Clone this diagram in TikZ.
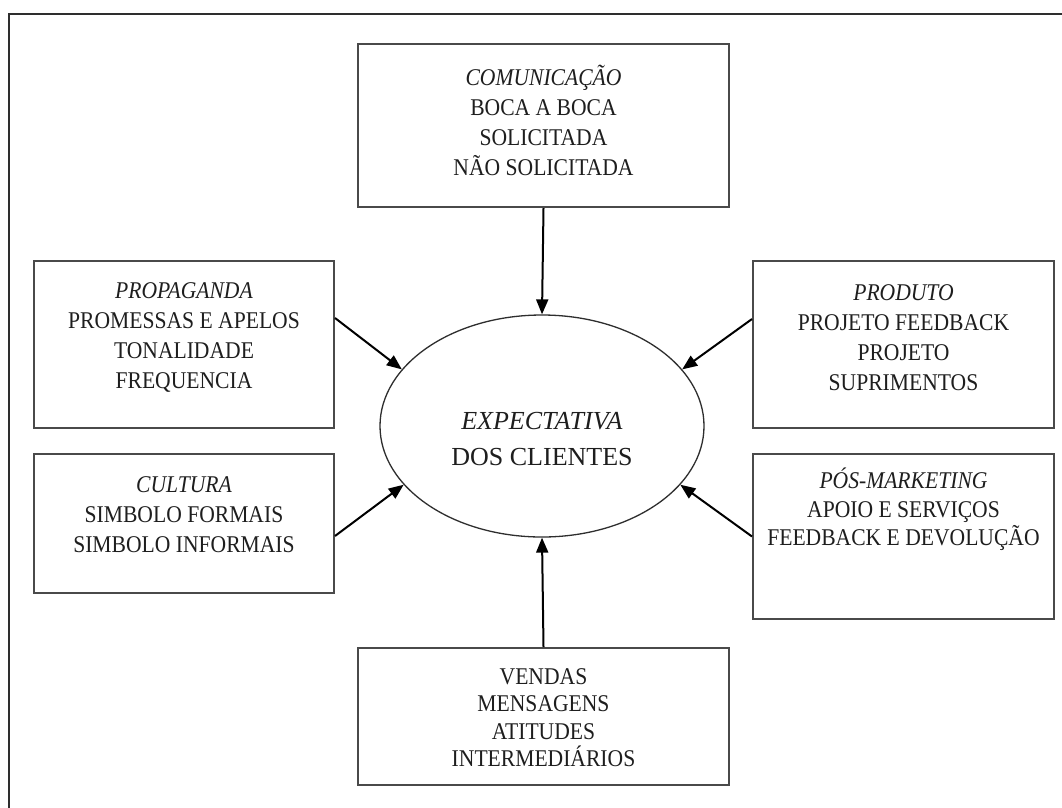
\documentclass[tikz,border=0pt]{standalone}
\usepackage{fontspec}
\setmainfont{Liberation Serif}[FakeStretch=0.9]
\newfontfamily\ellfont{Liberation Serif}
\usetikzlibrary{arrows.meta,shapes.geometric}
\definecolor{boxline}{HTML}{4A4A4A}
\definecolor{txt}{HTML}{1E1E1E}
\definecolor{frameline}{HTML}{2E2E2E}
\begin{document}
\begin{tikzpicture}[x=1pt,y=-1pt,
  box/.style 2 args={draw=boxline, line width=2pt, rectangle, anchor=north west,
    inner sep=0pt, minimum width=#1, minimum height=#2},
  lbl/.style={align=center, inner sep=0pt, text=txt,
    font=\fontsize{24}{30}\selectfont},
  arr/.style={draw=black, line width=2pt, -{Triangle[length=15pt,width=12pt]}}]
\useasboundingbox (0,0) rectangle (1062,807);
\clip (0,0) rectangle (1062,807);
\fill[white] (0,0) rectangle (1062,807);
% outer frame (cut off at right and bottom)
\draw[frameline, line width=2.8pt] (9,900) |- (1100,14);

% boxes
\node[box={371}{163}] (top) at (357,43) {};
\node[box={300}{167}] (prop) at (33,260) {};
\node[box={300}{139}] (cult) at (33,453) {};
\node[box={301}{167}] (prod) at (752,260) {};
\node[box={301}{165}] (pos) at (752,453) {};
\node[box={371}{137}] (bot) at (357,647) {};
\node[draw=frameline, line width=1.3pt, ellipse, inner sep=0pt,
      minimum width=324, minimum height=222] (ell) at (542,426) {};

% texts
\node[lbl] (toptxt) at ([yshift=5.5pt]top.center)
  {\textit{COMUNICAÇÃO}\\BOCA A BOCA\\SOLICITADA\\NÃO SOLICITADA};
\node[lbl] (proptxt) at ([yshift=7.5pt]prop.center)
  {\textit{PROPAGANDA}\\PROMESSAS E APELOS\\TONALIDADE\\FREQUENCIA};
\node[lbl] (culttxt) at ([yshift=8.5pt]cult.center)
  {\textit{CULTURA}\\SIMBOLO FORMAIS\\SIMBOLO INFORMAIS};
\node[lbl] (prodtxt) at ([yshift=7pt]prod.center)
  {\textit{PRODUTO}\\PROJETO FEEDBACK\\PROJETO\\SUPRIMENTOS};
\node[lbl, font=\fontsize{24}{28.5}\selectfont] (postxt) at ([yshift=27pt]pos.center)
  {\textit{PÓS-MARKETING}\\APOIO E SERVIÇOS\\FEEDBACK E DEVOLUÇÃO};
\node[lbl, font=\fontsize{24}{27.5}\selectfont] (bottxt) at ([yshift=-1pt]bot.center)
  {VENDAS\\MENSAGENS\\ATITUDES\\INTERMEDIÁRIOS};
\node[lbl, font=\ellfont\fontsize{26}{36}\selectfont] (elltxt) at ([yshift=-13pt]ell.center)
  {\textit{EXPECTATIVA}\\DOS CLIENTES};

% connectors
\draw[arr] (top.south) -- (ell.north);
\draw[arr] ([yshift=26.5pt]prop.east) -- (ell.158);
\draw[arr] ([yshift=-12.5pt]cult.east) -- (ell.203);
\draw[arr] ([yshift=25.5pt]prod.west) -- (ell.22);
\draw[arr] (pos.west) -- (ell.337);
\draw[arr] (bot.north) -- (ell.south);
\end{tikzpicture}
\end{document}
